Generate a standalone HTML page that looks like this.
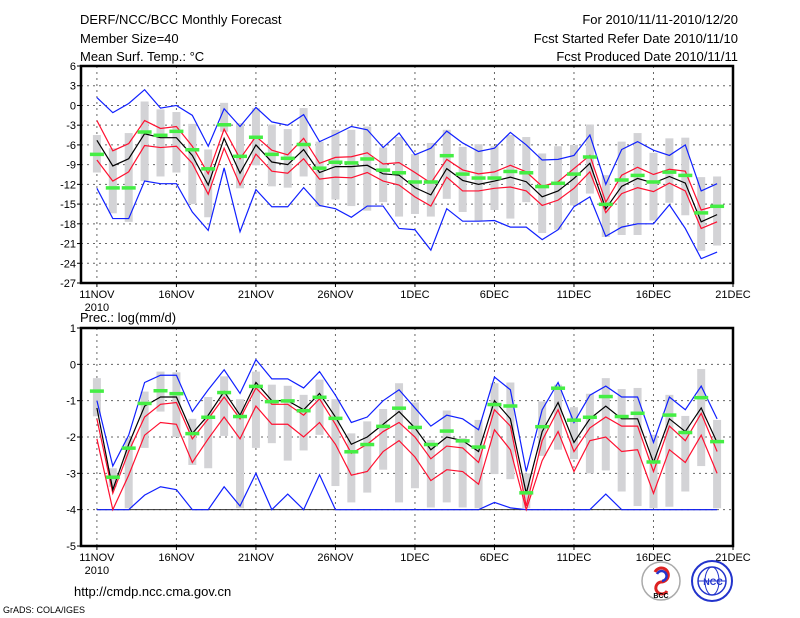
<!DOCTYPE html>
<html><head><meta charset="utf-8"><title>DERF/NCC/BCC Monthly Forecast</title>
<style>
body{margin:0;background:#fff;}
svg{display:block;font-family:"Liberation Sans",sans-serif;}
text{fill:#000;}
</style></head>
<body>
<svg id="chart" width="800" height="618" viewBox="0 0 800 618" xmlns="http://www.w3.org/2000/svg">
<rect width="800" height="618" fill="#fff"/>
<g font-size="13">
<text x="80" y="24">DERF/NCC/BCC Monthly Forecast</text>
<text x="80" y="43">Member Size=40</text>
<text x="80" y="61">Mean Surf. Temp.: °C</text>
<text x="738" y="24" text-anchor="end">For 2010/11/11-2010/12/20</text>
<text x="738" y="43" text-anchor="end">Fcst Started Refer Date 2010/11/10</text>
<text x="738" y="61" text-anchor="end">Fcst Produced Date 2010/11/11</text>
</g>
<text x="80" y="322" font-size="13">Prec.: log(mm/d)</text>
<g id="top"></g>
<g id="bot"></g>
<text x="74" y="596" font-size="13">http://cmdp.ncc.cma.gov.cn</text>
<text x="3" y="613" font-size="9">GrADS: COLA/IGES</text>
<g>
<circle cx="661" cy="581" r="19" fill="#fff" stroke="#aaa" stroke-width="1.5"/>
<path d="M655 572 a7 7 0 1 1 6 10 a6 6 0 1 0 6 9" fill="none" stroke="#d22" stroke-width="3"/>
<path d="M657 574 a5 5 0 1 1 5 7" fill="none" stroke="#23c" stroke-width="2.5"/>
<text x="661" y="598" font-size="7" text-anchor="middle" font-weight="bold">BCC</text>
</g>
<g>
<circle cx="712" cy="581" r="20" fill="#fff" stroke="#23c" stroke-width="2"/>
<circle cx="712" cy="581" r="14" fill="none" stroke="#23c" stroke-width="1.5"/>
<ellipse cx="712" cy="581" rx="7" ry="14" fill="none" stroke="#23c" stroke-width="1"/>
<line x1="698" y1="581" x2="726" y2="581" stroke="#23c"/>
<text x="713" y="585" font-size="9" text-anchor="middle" fill="#23c" style="fill:#23c" font-weight="bold">NCC</text>
</g>
</svg>
<script>
// ---- Temperature panel data (day 0 = 11NOV) ----
const tBlueHi=[1.2,-1.1,0.3,2.4,-0.4,0.0,-1.5,-6.2,-0.5,-3.2,-0.3,-2.5,-3.0,-1.4,-5.5,-4.4,-3.2,-3.7,-6.4,-4.2,-7.5,-6.5,-3.9,-5.7,-7.0,-6.5,-4.1,-6.0,-8.3,-8.2,-7.6,-4.5,-12.0,-6.7,-5.5,-6.8,-7.6,-6.0,-13.0,-11.9];
const tBlueLo=[-12.6,-17.2,-17.2,-11.5,-11.9,-11.9,-16.2,-19.0,-9.5,-19.2,-12.8,-15.4,-15.4,-12.5,-15.2,-15.7,-17.0,-15.3,-15.3,-18.7,-18.9,-22.0,-15.7,-17.6,-17.6,-17.5,-18.5,-18.5,-20.4,-18.9,-15.4,-13.9,-19.9,-18.5,-18.0,-18.0,-15.1,-18.7,-23.3,-22.3];
const tMean=[-5.3,-9.2,-8.1,-4.3,-4.9,-4.9,-7.6,-12.1,-5.0,-10.3,-6.0,-8.6,-9.0,-6.7,-10.2,-9.3,-9.3,-9.1,-10.4,-10.6,-12.5,-13.6,-9.6,-11.4,-12.0,-11.5,-10.9,-11.6,-13.9,-13.0,-11.1,-8.8,-15.7,-12.3,-11.1,-11.8,-10.8,-11.8,-17.7,-16.6];
const tRedHi=[-2.3,-6.9,-5.8,-2.3,-3.5,-3.2,-6.2,-10.4,-3.6,-8.1,-4.7,-6.8,-7.5,-5.0,-8.8,-7.9,-7.8,-7.2,-8.9,-8.7,-10.2,-11.8,-8.2,-9.8,-10.4,-10.1,-9.1,-10.1,-12.3,-11.6,-9.6,-7.6,-14.7,-10.6,-9.4,-10.5,-9.7,-10.0,-15.9,-15.2];
const tRedLo=[-8.3,-11.5,-10.1,-6.1,-6.4,-6.2,-8.8,-13.5,-6.5,-12.1,-7.4,-10.0,-10.3,-8.1,-11.2,-10.9,-11.0,-10.2,-11.5,-12.1,-13.9,-15.3,-10.9,-13.0,-13.0,-12.6,-12.4,-13.0,-15.2,-14.4,-12.6,-10.1,-16.3,-13.4,-12.5,-13.1,-11.8,-13.0,-18.7,-17.7];
const tObs=[-7.4,-12.5,-12.5,-4.0,-4.5,-3.9,-6.7,-9.6,-2.9,-7.7,-4.8,-7.4,-8.0,-5.9,-9.5,-8.6,-8.7,-8.1,-9.8,-10.2,-11.6,-11.6,-7.6,-10.4,-11.0,-11.0,-10.0,-10.2,-12.3,-11.8,-10.4,-7.8,-15.0,-11.3,-10.6,-11.6,-10.1,-10.6,-16.3,-15.3];
const tBarHi=[-4.5,-6.5,-4.2,0.6,-0.6,-1.0,-2.8,-6.7,0.4,-2.7,-0.4,-2.9,-3.6,-0.4,-5.5,-3.7,-3.7,-3.2,-6.4,-4.8,-7.4,-5.7,-3.7,-6.3,-5.9,-6.2,-4.5,-4.8,-7.3,-6.2,-6.0,-2.9,-10.6,-5.5,-4.2,-7.2,-5.0,-4.9,-10.9,-10.8];
const tBarLo=[-10.2,-16.4,-17.7,-11.5,-10.8,-10.2,-15.0,-17.0,-4.0,-12.6,-9.1,-12.3,-12.5,-10.8,-15.4,-14.3,-15.3,-16.0,-14.7,-16.9,-16.5,-16.9,-14.2,-16.2,-17.6,-15.9,-17.2,-14.7,-19.4,-18.9,-15.2,-13.4,-20.0,-19.7,-19.7,-17.5,-14.8,-16.7,-22.1,-21.3];
const tTicks=[6,3,0,-3,-6,-9,-12,-15,-18,-21,-24,-27];
// ---- Precipitation panel data ----
const pBlueHi=[-1.0,-2.8,-1.95,-0.5,-0.3,-0.3,-1.3,-0.7,-0.15,-0.8,0.13,-0.4,-0.4,-0.65,-0.2,-0.85,-1.6,-1.45,-1.0,-0.7,-1.2,-1.7,-1.4,-1.5,-1.8,-0.35,-0.7,-2.95,-1.25,-0.5,-1.6,-0.85,-0.6,-0.9,-0.9,-2.15,-0.9,-1.25,-0.6,-1.5];
const pBlueLo=[-4,-4,-4,-3.6,-3.37,-3.45,-4,-4,-3.37,-3.9,-3.0,-4,-3.57,-4,-3.04,-4,-4,-4,-4,-4,-4,-4,-4,-4,-4,-3.8,-3.95,-4,-4,-4,-4,-4,-3.57,-4,-4,-4,-4,-4,-4,-4];
const pMean=[-1.2,-3.45,-2.2,-1.15,-0.9,-0.9,-1.9,-1.4,-0.75,-1.4,-0.5,-1.0,-1.0,-1.25,-0.8,-1.45,-2.2,-2.0,-1.65,-1.3,-1.75,-2.35,-2.0,-2.1,-2.4,-1.0,-1.5,-3.55,-1.85,-1.05,-2.15,-1.5,-1.15,-1.5,-1.5,-2.7,-1.5,-1.85,-1.2,-2.15];
const pRedHi=[-1.5,-3.55,-2.4,-1.45,-1.1,-1.05,-2.05,-1.5,-0.9,-1.5,-0.65,-1.1,-1.1,-1.4,-0.95,-1.65,-2.45,-2.2,-1.85,-1.6,-2.0,-2.6,-2.25,-2.3,-2.7,-1.25,-1.7,-3.9,-2.1,-1.25,-2.4,-1.75,-1.45,-1.7,-1.7,-2.95,-1.7,-2.1,-1.35,-2.4];
const pRedLo=[-2.05,-4.0,-3.05,-1.95,-1.6,-1.65,-2.7,-2.05,-1.45,-2.05,-1.15,-1.65,-1.65,-2.0,-1.6,-2.2,-3.05,-2.95,-2.4,-2.1,-2.55,-3.2,-2.9,-2.95,-3.3,-1.8,-2.35,-4.0,-2.65,-1.85,-2.95,-2.1,-2.0,-2.4,-2.35,-3.55,-2.35,-2.7,-1.95,-3.0];
const pObs=[-0.73,-3.1,-2.3,-1.07,-0.72,-0.8,-1.9,-1.45,-0.77,-1.43,-0.6,-1.02,-1.0,-1.27,-0.9,-1.48,-2.4,-2.2,-1.7,-1.2,-1.73,-2.2,-1.83,-2.1,-2.27,-1.1,-1.14,-3.53,-1.71,-0.65,-1.53,-1.45,-0.88,-1.43,-1.34,-2.68,-1.39,-1.87,-0.91,-2.12];
const pBarHi=[-0.38,-2.86,-2.03,-0.75,-0.2,-0.22,-1.5,-0.9,-0.33,-0.96,-0.2,-0.56,-0.59,-0.84,-0.42,-0.96,-1.9,-1.57,-1.23,-0.52,-1.05,-2.08,-1.27,-2.03,-1.53,-0.52,-0.5,-3.0,-1.02,-0.56,-1.18,-0.81,-0.38,-0.68,-0.65,-1.94,-0.84,-1.42,-0.13,-1.53];
const pBarLo=[-1.43,-3.37,-3.96,-2.3,-1.3,-2.0,-2.77,-2.86,-1.97,-3.96,-2.3,-2.17,-2.65,-2.37,-1.94,-3.35,-3.8,-3.53,-2.9,-3.8,-3.41,-3.94,-3.8,-3.94,-3.96,-3.02,-3.16,-3.96,-2.52,-2.35,-2.61,-3.0,-2.92,-3.5,-3.9,-3.96,-3.92,-3.5,-2.8,-3.96];
const pTicks=[1,0,-1,-2,-3,-4,-5];
const dateLabels=["11NOV","16NOV","21NOV","26NOV","1DEC","6DEC","11DEC","16DEC","21DEC"];

const NS="http://www.w3.org/2000/svg";
const X0=81,X1=733;
function xs(d){return X0+(d+1)*(X1-X0)/41;}
function mk(tag,attrs,parent){const e=document.createElementNS(NS,tag);for(const k in attrs)e.setAttribute(k,attrs[k]);parent.appendChild(e);return e;}

function panel(g,yTop,yBot,vMax,vMin,ticks,bHi,bLo,mean,rHi,rLo,obs,barHi,barLo,baseline,prefix){
  const ys=v=>yTop+(vMax-v)*(yBot-yTop)/(vMax-vMin);
  // grid
  ticks.forEach(t=>{
    if(t!==vMax&&t!==vMin){const l=mk('line',{x1:X0,x2:X1,y1:ys(t),y2:ys(t),stroke:'#666','stroke-dasharray':'2,4','stroke-width':1},g);
    
    }
    const tx=mk('text',{x:76,y:ys(t)+4,'font-size':11,'text-anchor':'end'},g);tx.textContent=String(t);
    
    
    const tk=mk('line',{x1:X0-4,x2:X0,y1:ys(t),y2:ys(t),stroke:'#000'},g);
    
    
  });
  dateLabels.forEach((lab,i)=>{
    const x=xs(i*5);
    if(i<8){const l=mk('line',{x1:x,x2:x,y1:yTop,y2:yBot,stroke:'#666','stroke-dasharray':'2,4'},g);
    
    }
    const tk=mk('line',{x1:x,x2:x,y1:yBot,y2:yBot+4,stroke:'#000'},g);
    
    
    const tx=mk('text',{x:x,y:yBot+15,'font-size':11,'text-anchor':'middle'},g);tx.textContent=lab;
    
    
  });
  const yr=mk('text',{x:xs(0),y:yBot+28,'font-size':11,'text-anchor':'middle'},g);yr.textContent='2010';
  
  
  if(baseline!==null){const bl=mk('line',{x1:xs(0),x2:xs(39),y1:ys(baseline),y2:ys(baseline),stroke:'#333'},g);
    
    }
  // bars
  barHi.forEach((h,i)=>{
    const r=mk('rect',{x:xs(i)-4,y:ys(h),width:8,height:ys(barLo[i])-ys(h),fill:'#d3d3d6'},g);
    
    
  });
  const line=(arr,col,name)=>{
    const p=mk('polyline',{points:arr.map((v,i)=>xs(i)+','+ys(v)).join(' '),fill:'none',stroke:col,'stroke-width':1.2},g);
    
    
  };
  line(bHi,'#1020ff',prefix+'-max-line');
  line(bLo,'#1020ff',prefix+'-min-line');
  line(rHi,'#ff1030',prefix+'-upper-spread-line');
  line(rLo,'#ff1030',prefix+'-lower-spread-line');
  line(mean,'#000',prefix+'-mean-line');
  obs.forEach((v,i)=>{
    const r=mk('rect',{x:xs(i)-7,y:ys(v)-1.5,width:14,height:3.5,fill:'#44ee44'},g);
    
    
  });
  const f=mk('rect',{x:X0,y:yTop,width:X1-X0,height:yBot-yTop,fill:'none',stroke:'#000','stroke-width':2.5},g);
  
  
}
panel(document.getElementById('top'),66,283,6,-27,tTicks,tBlueHi,tBlueLo,tMean,tRedHi,tRedLo,tObs,tBarHi,tBarLo,null,'temp');
panel(document.getElementById('bot'),328,546,1,-5,pTicks,pBlueHi,pBlueLo,pMean,pRedHi,pRedLo,pObs,pBarHi,pBarLo,-4,'prec');
</script>
</body></html>
